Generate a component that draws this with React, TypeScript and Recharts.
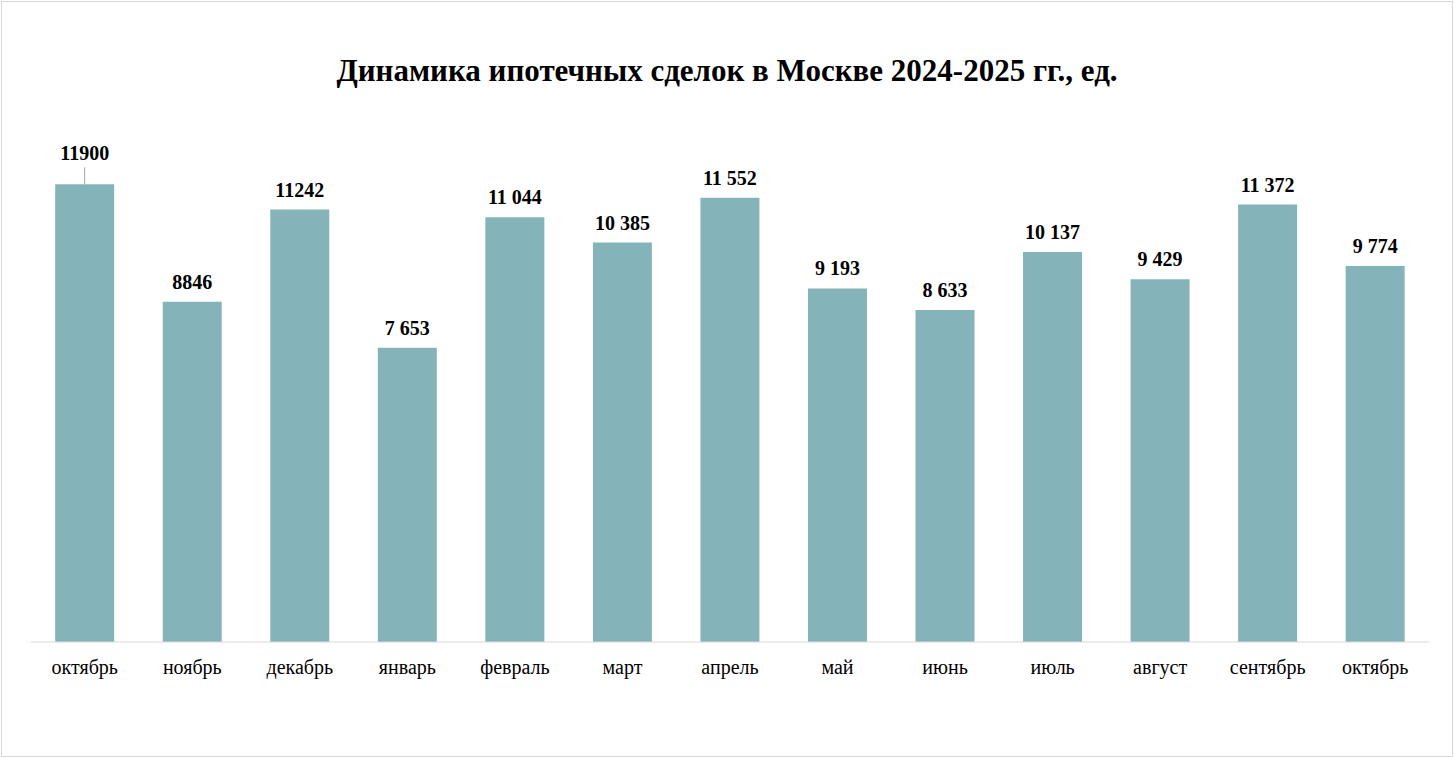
import { Bar, BarChart, LabelList, XAxis, YAxis } from "recharts";

const months = [
  "октябрь",
  "ноябрь",
  "декабрь",
  "январь",
  "февраль",
  "март",
  "апрель",
  "май",
  "июнь",
  "июль",
  "август",
  "сентябрь",
  "октябрь",
];

const deals = [11900, 8846, 11242, 7653, 11044, 10385, 11552, 9193, 8633, 10137, 9429, 11372, 9774];

const dealLabels = [
  "11900",
  "8846",
  "11242",
  "7 653",
  "11 044",
  "10 385",
  "11 552",
  "9 193",
  "8 633",
  "10 137",
  "9 429",
  "11 372",
  "9 774",
];

const chartData = months.map((m, i) => ({ month: m, deals: deals[i], label: dealLabels[i] }));

const serif = '"Liberation Serif", "Times New Roman", serif';

// first label sits higher with a leader line, like in the source
const DealLabel = (props: any) => {
  const { x, y, width, index } = props;
  const cx = x + width / 2;
  const lifted = index === 0;
  return (
    <g>
      {lifted && <line x1={cx} x2={cx} y1={y - 17} y2={y} stroke="#a6a6a6" strokeWidth={1} />}
      <text
        x={cx}
        y={lifted ? y - 31 : y - 20}
        textAnchor="middle"
        dominantBaseline="central"
        fontFamily={serif}
        fontWeight="bold"
        fontSize={20}
        fill="#000"
      >
        {dealLabels[index]}
      </text>
    </g>
  );
};

export default function App() {
  return (
    <div
      style={{
        position: "absolute",
        left: 0,
        top: 0,
        width: 1454,
        height: 758,
        background: "#fff",
      }}
    >
      <div
        style={{
          position: "absolute",
          left: 1,
          top: 1,
          width: 1450,
          height: 754,
          border: "1px solid #d9d9d9",
        }}
      />
      <div
        style={{
          position: "absolute",
          top: 53,
          left: 0,
          width: 1454,
          textAlign: "center",
          fontFamily: serif,
          fontWeight: "bold",
          fontSize: 31,
          color: "#000",
        }}
      >
        Динамика ипотечных сделок в Москве 2024-2025 гг., ед.
      </div>
      <div style={{ position: "absolute", left: 0, top: 0 }}>
        <BarChart
          width={1454}
          height={758}
          data={chartData}
          margin={{ top: 142, right: 25, bottom: 76, left: 31 }}
          barCategoryGap="22.5%"
        >
          <XAxis
            dataKey="month"
            height={40}
            tickLine={false}
            axisLine={{ stroke: "#d9d9d9" }}
            tickMargin={12}
            interval={0}
            tick={{ fontFamily: serif, fontSize: 20, fill: "#000" }}
          />
          <YAxis hide domain={[0, 13000]} />
          <Bar dataKey="deals" fill="#84b4ba" isAnimationActive={false}>
            <LabelList dataKey="label" content={DealLabel} />
          </Bar>
        </BarChart>
      </div>
    </div>
  );
}
